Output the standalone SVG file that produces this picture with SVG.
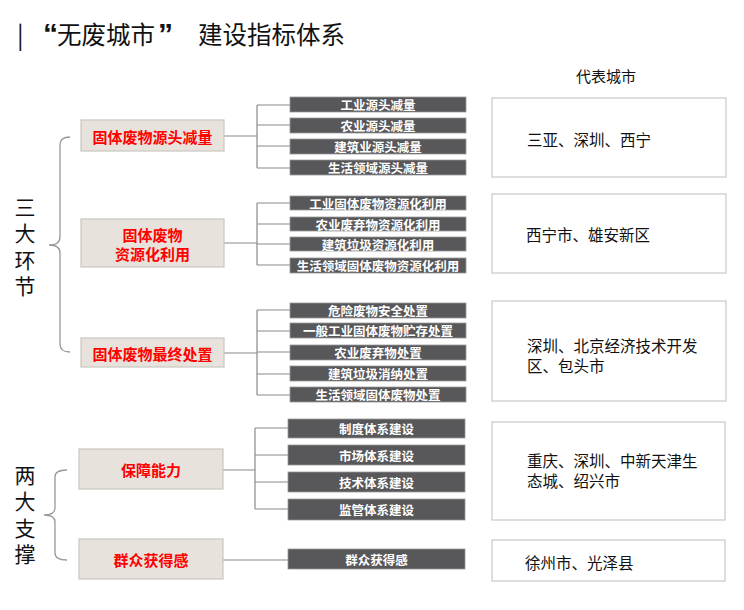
<svg xmlns="http://www.w3.org/2000/svg" width="744" height="610" viewBox="0 0 744 610">
<style>
text{font-family:"Noto Sans CJK SC","Noto Sans",sans-serif}
.title{font-size:24.5px;fill:#111}
.q{font-family:"Liberation Sans",Arial,sans-serif;font-size:30px;font-weight:bold}
.side{font-size:21px;fill:#111;writing-mode:vertical-rl;text-orientation:upright;letter-spacing:5.5px}
.node rect{fill:#e7e3dc;stroke:#c9c6c0;stroke-width:1.2}
.node text{font-size:15px;font-weight:bold;fill:#ff0000;text-anchor:middle;dominant-baseline:central}
.sub rect{fill:#58585b;stroke:#9a9a9a;stroke-width:0.8}
.sub text{font-size:12.5px;font-weight:bold;fill:#fff;text-anchor:middle;dominant-baseline:central}
.city rect{fill:#fff;stroke:#c8c8c8;stroke-width:1.2}
.city text{font-size:15.5px;fill:#111;dominant-baseline:central}
.head{font-size:15px;fill:#111;text-anchor:middle;dominant-baseline:central}
.conn path{fill:none;stroke:#8a8a8a;stroke-width:1.2}
.brace path{fill:none;stroke:#999;stroke-width:1.3}
</style>

<g id="title">
<text class="title" x="17" y="44">|</text>
<text class="title" x="43" y="44"><tspan class="q">“</tspan><tspan x="57">无废城市</tspan><tspan class="q" x="158">”</tspan></text>
<text class="title" x="198" y="44">建设指标体系</text>
</g>

<g id="side-labels">
<text class="side" x="25" y="196.5">三大环节</text>
<text class="side" x="25" y="464.5">两大支撑</text>
</g>

<g id="braces" class="brace">
<path d="M70,137 Q60,137 60,145 L60,237 Q60,245 49,245 Q60,245 60,253 L60,344 Q60,352 70,352"/>
<path d="M67,470 Q55,470 55,477 L55,508 Q55,515 44,515 Q55,515 55,522 L55,553 Q55,560 67,560"/>
</g>

<g id="connectors" class="conn">
<path d="M224,136 H257 M257,105 V168 M257,105 H290 M257,125 H290 M257,146 H290 M257,168 H290"/>
<path d="M224,243 H257 M257,203 V265 M257,203 H290 M257,224 H290 M257,244 H290 M257,265 H290"/>
<path d="M224,353 H257 M257,310 V395 M257,310 H290 M257,331 H290 M257,352 H290 M257,374 H290 M257,395 H290"/>
<path d="M223,470 H255 M255,428 V509 M255,428 H288 M255,455 H288 M255,482 H288 M255,509 H288"/>
<path d="M223,560 H288"/>
</g>

<g id="node-source" class="node">
<rect x="81" y="120" width="143" height="31"/>
<text x="152.5" y="136">固体废物源头减量</text>
</g>
<g id="node-reuse" class="node">
<rect x="81" y="219" width="143" height="48"/>
<text x="152.5" y="234">固体废物<tspan x="152.5" dy="19">资源化利用</tspan></text>
</g>
<g id="node-disposal" class="node">
<rect x="81" y="338" width="143" height="29"/>
<text x="152.5" y="353">固体废物最终处置</text>
</g>
<g id="node-capacity" class="node">
<rect x="79" y="449" width="144" height="40"/>
<text x="151" y="469">保障能力</text>
</g>
<g id="node-public" class="node">
<rect x="79" y="539" width="144" height="40"/>
<text x="151" y="559">群众获得感</text>
</g>

<g id="sub-1-1" class="sub"><rect x="290" y="97" width="176" height="15"/><text x="378" y="104.5">工业源头减量</text></g>
<g id="sub-1-2" class="sub"><rect x="290" y="118" width="176" height="15"/><text x="378" y="125.5">农业源头减量</text></g>
<g id="sub-1-3" class="sub"><rect x="290" y="139" width="176" height="15"/><text x="378" y="146.5">建筑业源头减量</text></g>
<g id="sub-1-4" class="sub"><rect x="290" y="160" width="176" height="15"/><text x="378" y="167.5">生活领域源头减量</text></g>

<g id="sub-2-1" class="sub"><rect x="290" y="196" width="176" height="14"/><text x="378" y="203">工业固体废物资源化利用</text></g>
<g id="sub-2-2" class="sub"><rect x="290" y="217" width="176" height="14"/><text x="378" y="224">农业废弃物资源化利用</text></g>
<g id="sub-2-3" class="sub"><rect x="290" y="237" width="176" height="14"/><text x="378" y="244">建筑垃圾资源化利用</text></g>
<g id="sub-2-4" class="sub"><rect x="290" y="258" width="176" height="15"/><text x="378" y="265.5">生活领域固体废物资源化利用</text></g>

<g id="sub-3-1" class="sub"><rect x="290" y="303" width="176" height="15"/><text x="378" y="310.5">危险废物安全处置</text></g>
<g id="sub-3-2" class="sub"><rect x="290" y="323" width="176" height="15"/><text x="378" y="330.5">一般工业固体废物贮存处置</text></g>
<g id="sub-3-3" class="sub"><rect x="290" y="345" width="176" height="15"/><text x="378" y="352.5">农业废弃物处置</text></g>
<g id="sub-3-4" class="sub"><rect x="290" y="366" width="176" height="15"/><text x="378" y="373.5">建筑垃圾消纳处置</text></g>
<g id="sub-3-5" class="sub"><rect x="290" y="387" width="176" height="15"/><text x="378" y="394.5">生活领域固体废物处置</text></g>

<g id="sub-4-1" class="sub"><rect x="288" y="419" width="177" height="19"/><text x="376.5" y="428.5">制度体系建设</text></g>
<g id="sub-4-2" class="sub"><rect x="288" y="445" width="177" height="20"/><text x="376.5" y="455">市场体系建设</text></g>
<g id="sub-4-3" class="sub"><rect x="288" y="472" width="177" height="20"/><text x="376.5" y="482">技术体系建设</text></g>
<g id="sub-4-4" class="sub"><rect x="288" y="499" width="177" height="21"/><text x="376.5" y="509.5">监管体系建设</text></g>

<g id="sub-5-1" class="sub"><rect x="288" y="549" width="177" height="20"/><text x="376.5" y="559">群众获得感</text></g>

<g id="cities-head"><text class="head" x="606" y="75">代表城市</text></g>
<g id="city-1" class="city"><rect x="492" y="98" width="234" height="79"/><text x="527" y="139">三亚、深圳、西宁</text></g>
<g id="city-2" class="city"><rect x="492" y="194" width="234" height="79"/><text x="526" y="234">西宁市、雄安新区</text></g>
<g id="city-3" class="city"><rect x="492" y="301" width="234" height="100"/><text x="527" y="345">深圳、北京经济技术开发<tspan x="527" dy="19.5">区、包头市</tspan></text></g>
<g id="city-4" class="city"><rect x="492" y="422" width="233" height="98"/><text x="527" y="460">重庆、深圳、中新天津生<tspan x="527" dy="19.5">态城、绍兴市</tspan></text></g>
<g id="city-5" class="city"><rect x="492" y="540" width="233" height="41"/><text x="525" y="562">徐州市、光泽县</text></g>
</svg>
